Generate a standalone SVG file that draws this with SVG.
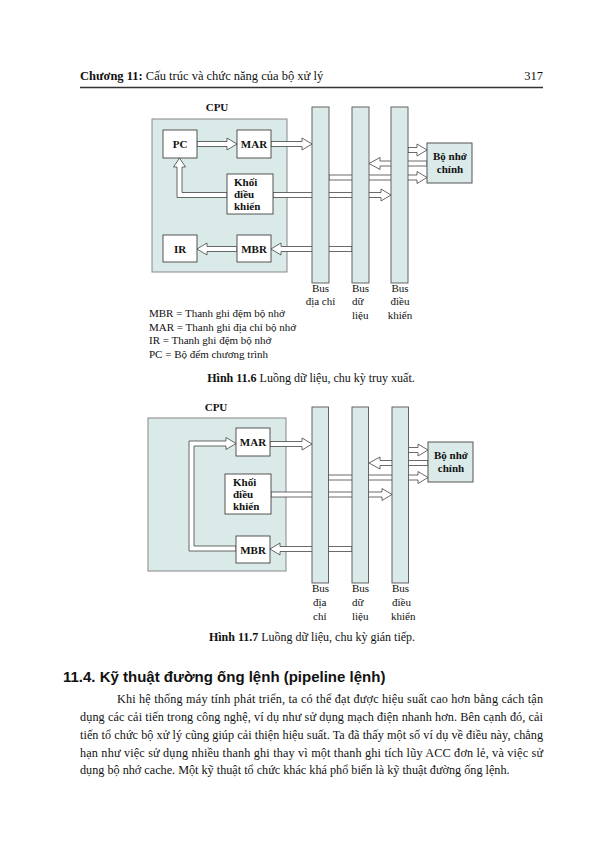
<svg xmlns="http://www.w3.org/2000/svg" width="595" height="842" viewBox="0 0 595 842">
<style>
.serif{font-family:"Liberation Serif","Times New Roman",serif;fill:#111}
.b{font-weight:bold}
.cpu{fill:#d9eae8;stroke:#888;stroke-width:1}
.box{fill:#fff;stroke:#444;stroke-width:0.9}
.mem{fill:#d9eae8;stroke:#555;stroke-width:1}
.bus{fill:#d9eae8;stroke:#555;stroke-width:0.9}
.arr{fill:#fff;stroke:#444;stroke-width:0.8}
.lbl{font-size:11px}
.bl{font-size:11px;font-weight:bold}
</style>
<rect width="595" height="842" fill="#fff"/>
<!-- header -->
<text class="serif" x="80" y="80" font-size="12.5"><tspan class="b">Chương 11:</tspan> Cấu trúc và chức năng của bộ xử lý</text>
<text class="serif" x="543" y="80" font-size="12.5" text-anchor="end">317</text>
<line x1="80" y1="87.5" x2="543" y2="87.5" stroke="#333" stroke-width="1.5"/>

<!-- ===== Figure 11.6 ===== -->
<g id="fig1">
<text class="serif bl" x="217" y="111" text-anchor="middle">CPU</text>
<g id="cpu1"><rect class="cpu" x="152" y="119" width="135" height="153"/></g>
<g id="connectors1">
<polygon class="arr" points="197,141.5 227,141.5 227,138 237,144 227,150 227,146.5 197,146.5"/>
<polygon class="arr" points="271,141.5 302,141.5 302,138 312,144 302,150 302,146.5 271,146.5"/>
<polygon class="arr" points="227,192.5 182,192.5 182,167 185.5,167 179.5,158 173.5,167 177,167 177,197.5 227,197.5"/>
<polygon class="arr" points="273,192.5 381,192.5 381,189 391,195 381,201 381,197.5 273,197.5"/>
<polygon class="arr" points="352,246.5 281,246.5 281,243 271,249 281,255 281,251.5 352,251.5"/>
<polygon class="arr" points="237,246.5 207,246.5 207,243 197,249 207,255 207,251.5 237,251.5"/>
<polygon class="arr" points="408,147.5 417,147.5 417,144 427,150 417,156 417,152.5 408,152.5"/>
<polygon class="arr" points="427,161 380,161 380,157.5 369,163.5 380,169.5 380,166 427,166"/>
<polygon class="arr" points="329,175 417,175 417,171.5 427,177.5 417,183.5 417,180 329,180"/>
</g>
<g id="pc1"><rect class="box" x="163" y="130" width="34" height="28"/><text class="serif bl" x="180" y="148" text-anchor="middle">PC</text></g>
<g id="mar1"><rect class="box" x="237" y="130" width="34" height="28"/><text class="serif bl" x="254" y="148" text-anchor="middle">MAR</text></g>
<g id="ctrl1"><rect class="box" x="227" y="174" width="46" height="40"/>
<text class="serif bl" x="234" y="186">Khối</text><text class="serif bl" x="234" y="198">điều</text><text class="serif bl" x="234" y="210">khiển</text></g>
<g id="ir1"><rect class="box" x="163" y="235" width="34" height="27"/><text class="serif bl" x="180" y="252.5" text-anchor="middle">IR</text></g>
<g id="mbr1"><rect class="box" x="237" y="235" width="34" height="27"/><text class="serif bl" x="254" y="252.5" text-anchor="middle">MBR</text></g>
<g id="busA1"><rect class="bus" x="312" y="107" width="17" height="176"/></g>
<g id="busD1"><rect class="bus" x="352" y="107" width="17" height="176"/></g>
<g id="busC1"><rect class="bus" x="391" y="107" width="17" height="176"/></g>
<g id="mem1"><rect class="mem" x="427" y="143" width="45" height="40"/>
<text class="serif bl" x="450" y="160" text-anchor="middle">Bộ nhớ</text><text class="serif bl" x="450" y="173" text-anchor="middle">chính</text></g>
<text class="serif lbl" x="320.5" y="292" text-anchor="middle">Bus</text>
<text class="serif lbl" x="320.5" y="305" text-anchor="middle">địa chỉ</text>
<text class="serif lbl" x="352" y="292">Bus</text>
<text class="serif lbl" x="352" y="305">dữ</text>
<text class="serif lbl" x="352" y="319">liệu</text>
<text class="serif lbl" x="400" y="292" text-anchor="middle">Bus</text>
<text class="serif lbl" x="400" y="305" text-anchor="middle">điều</text>
<text class="serif lbl" x="400" y="319" text-anchor="middle">khiển</text>
<text class="serif lbl" x="149" y="317">MBR = Thanh ghi đệm bộ nhớ</text>
<text class="serif lbl" x="149" y="331">MAR = Thanh ghi địa chỉ bộ nhớ</text>
<text class="serif lbl" x="149" y="344">IR = Thanh ghi đệm bộ nhớ</text>
<text class="serif lbl" x="149" y="358">PC = Bộ đếm chương trình</text>
<text class="serif" x="311" y="382" font-size="12" text-anchor="middle"><tspan class="b">Hình 11.6</tspan> Luồng dữ liệu, chu kỳ truy xuất.</text>
</g>

<!-- ===== Figure 11.7 ===== -->
<g id="fig2">
<text class="serif bl" x="216" y="411" text-anchor="middle">CPU</text>
<g id="cpu2"><rect class="cpu" x="148" y="418" width="138" height="153"/></g>
<g id="connectors2">
<polygon class="arr" points="236,551 189,551 189,441 226,441 226,437.5 236,443.5 226,449.5 226,446 194,446 194,546 236,546"/>
<polygon class="arr" points="270,441.5 302,441.5 302,438 312,444 302,450 302,446.5 270,446.5"/>
<polygon class="arr" points="271,492 382,492 382,488.5 392,494.5 382,500.5 382,497 271,497"/>
<polygon class="arr" points="352,546.5 280,546.5 280,543 270,549 280,555 280,551.5 352,551.5"/>
<polygon class="arr" points="408,447.5 418,447.5 418,444 428,450 418,456 418,452.5 408,452.5"/>
<polygon class="arr" points="428,460.5 380,460.5 380,457 369,463 380,469 380,465.5 428,465.5"/>
<polygon class="arr" points="328,475 418,475 418,471.5 428,477.5 418,483.5 418,480 328,480"/>
</g>
<g id="mar2"><rect class="box" x="236" y="428" width="34" height="28"/><text class="serif bl" x="253" y="446" text-anchor="middle">MAR</text></g>
<g id="ctrl2"><rect class="box" x="225" y="474" width="46" height="40"/>
<text class="serif bl" x="233" y="486">Khối</text><text class="serif bl" x="233" y="498">điều</text><text class="serif bl" x="233" y="510">khiển</text></g>
<g id="mbr2"><rect class="box" x="236" y="536" width="34" height="27"/><text class="serif bl" x="253" y="553.5" text-anchor="middle">MBR</text></g>
<g id="busA2"><rect class="bus" x="312" y="407" width="16.5" height="176"/></g>
<g id="busD2"><rect class="bus" x="352" y="407" width="16.5" height="176"/></g>
<g id="busC2"><rect class="bus" x="392" y="407" width="16.5" height="176"/></g>
<g id="mem2"><rect class="mem" x="428" y="442" width="45" height="40"/>
<text class="serif bl" x="451" y="459" text-anchor="middle">Bộ nhớ</text><text class="serif bl" x="451" y="472" text-anchor="middle">chính</text></g>
<text class="serif lbl" x="312" y="592">Bus</text>
<text class="serif lbl" x="313" y="606">địa</text>
<text class="serif lbl" x="313" y="620">chỉ</text>
<text class="serif lbl" x="352" y="592">Bus</text>
<text class="serif lbl" x="352" y="606">dữ</text>
<text class="serif lbl" x="352" y="620">liệu</text>
<text class="serif lbl" x="392" y="592">Bus</text>
<text class="serif lbl" x="392" y="606">điều</text>
<text class="serif lbl" x="391" y="620">khiển</text>
<text class="serif" x="312" y="641" font-size="12" text-anchor="middle"><tspan class="b">Hình 11.7</tspan> Luồng dữ liệu, chu kỳ gián tiếp.</text>
</g>

<!-- ===== Section text ===== -->
<text x="63" y="682" font-family="'Liberation Sans',Arial,sans-serif" font-weight="bold" font-size="15" fill="#111">11.4. Kỹ thuật đường ống lệnh (pipeline lệnh)</text>
<g class="serif" font-size="12.2">
<text class="serif" x="117" y="703" textLength="426" lengthAdjust="spacing">Khi hệ thống máy tính phát triển, ta có thể đạt được hiệu suất cao hơn bằng cách tận</text>
<text class="serif" x="80" y="721" textLength="463" lengthAdjust="spacing">dụng các cải tiến trong công nghệ, ví dụ như sử dụng mạch điện nhanh hơn. Bên cạnh đó, cải</text>
<text class="serif" x="80" y="739" textLength="463" lengthAdjust="spacing">tiến tổ chức bộ xử lý cũng giúp cải thiện hiệu suất. Ta đã thấy một số ví dụ về điều này, chẳng</text>
<text class="serif" x="80" y="757" textLength="463" lengthAdjust="spacing">hạn như việc sử dụng nhiều thanh ghi thay vì một thanh ghi tích lũy ACC đơn lẻ, và việc sử</text>
<text class="serif" x="80" y="774">dụng bộ nhớ cache. Một kỹ thuật tổ chức khác khá phổ biến là kỹ thuật đường ống lệnh.</text>
</g>
</svg>
